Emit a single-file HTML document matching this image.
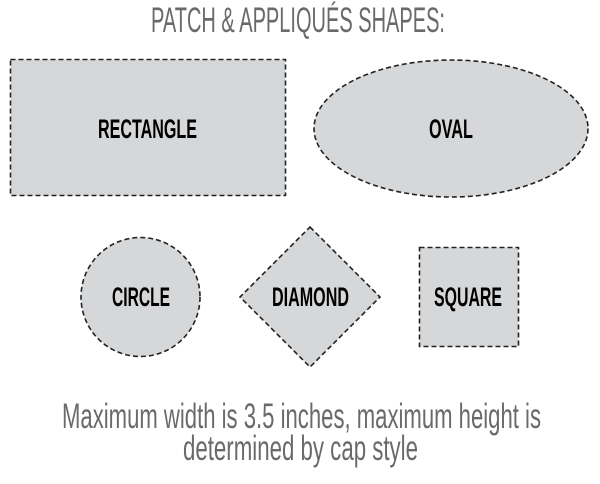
<!DOCTYPE html>
<html><head><style>html,body{margin:0;padding:0;background:#fff;}svg{display:block}</style></head>
<body>
<svg width="600" height="484" viewBox="0 0 600 484" xmlns="http://www.w3.org/2000/svg">
<g fill="#d6d7d9" stroke="#222" stroke-width="1.6" stroke-dasharray="5,3">
<rect x="10.5" y="59.5" width="275" height="136"/>
<ellipse cx="451" cy="128.5" rx="137" ry="68.5"/>
<circle cx="140.5" cy="297" r="59.5"/>
<polygon points="310,227 380,297 310,367 240,297"/>
<rect x="419.5" y="247.5" width="99" height="99"/>
</g>
<g font-family="Liberation Sans, sans-serif" fill="#6a6a6a">
<text x="151" y="32" font-size="35" textLength="294" lengthAdjust="spacingAndGlyphs">PATCH &amp; APPLIQUÉS SHAPES:</text>
<text x="62" y="428" font-size="35" textLength="479" lengthAdjust="spacingAndGlyphs">Maximum width is 3.5 inches, maximum height is</text>
<text x="183" y="460" font-size="35" textLength="235" lengthAdjust="spacingAndGlyphs">determined by cap style</text>
</g>
<g font-family="Liberation Sans, sans-serif" font-weight="bold" fill="#000" font-size="27">
<text x="98" y="138" textLength="99" lengthAdjust="spacingAndGlyphs">RECTANGLE</text>
<text x="429" y="138" textLength="44" lengthAdjust="spacingAndGlyphs">OVAL</text>
<text x="112" y="306" textLength="58" lengthAdjust="spacingAndGlyphs">CIRCLE</text>
<text x="272" y="306" textLength="77" lengthAdjust="spacingAndGlyphs">DIAMOND</text>
<text x="434" y="306" textLength="68" lengthAdjust="spacingAndGlyphs">SQUARE</text>
</g>
</svg>
</body></html>
